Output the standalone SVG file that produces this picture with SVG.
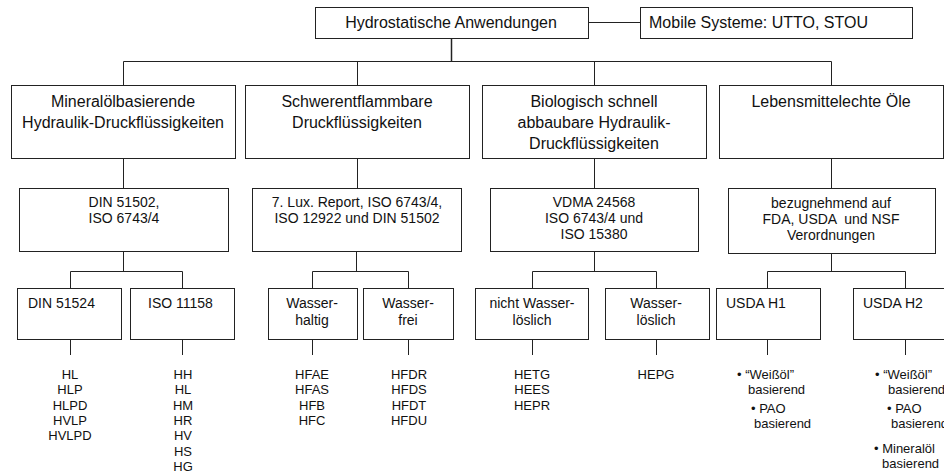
<svg xmlns="http://www.w3.org/2000/svg" width="944" height="475" viewBox="0 0 944 475">
<style>
rect{fill:#fff;stroke:#222;stroke-width:1}
.c line,.c path{stroke:#222;stroke-width:1;fill:none}
text{font-family:"Liberation Sans",Arial,sans-serif;fill:#111}
.t16{font-size:16px;text-anchor:middle}
.t14{font-size:14px;text-anchor:middle}
.s14{font-size:14px}
.l13{font-size:13px;text-anchor:middle}
.b13{font-size:13px}
</style>
<g class="c" id="connectors">
<line x1="588" y1="22.5" x2="640" y2="22.5"/>
<line x1="451.5" y1="38" x2="451.5" y2="61.5" style="stroke-width:1.5"/>
<path d="M123.5 85V61.5H831.5V85"/>
<line x1="357.5" y1="61.5" x2="357.5" y2="85"/>
<line x1="594.5" y1="61.5" x2="594.5" y2="85"/>
<line x1="123.5" y1="158" x2="123.5" y2="188"/>
<line x1="357.5" y1="158" x2="357.5" y2="188"/>
<line x1="594.5" y1="158" x2="594.5" y2="188"/>
<line x1="831.5" y1="158" x2="831.5" y2="188"/>
<line x1="123.5" y1="251" x2="123.5" y2="271.5"/>
<path d="M70.5 288V271.5H182.5V288"/>
<line x1="356.5" y1="251" x2="356.5" y2="271.5"/>
<path d="M312.5 288V271.5H408.5V288"/>
<line x1="594.5" y1="251" x2="594.5" y2="271.5"/>
<path d="M532.5 288V271.5H656.5V288"/>
<line x1="831.5" y1="253" x2="831.5" y2="271.5"/>
<path d="M767.5 288V271.5H905.5V288"/>
<line x1="70.5" y1="339" x2="70.5" y2="355"/>
<line x1="182.5" y1="339" x2="182.5" y2="355"/>
<line x1="312.5" y1="339" x2="312.5" y2="355"/>
<line x1="408.5" y1="339" x2="408.5" y2="355"/>
<line x1="532.5" y1="339" x2="532.5" y2="355"/>
<line x1="656.5" y1="339" x2="656.5" y2="355"/>
<line x1="767.5" y1="339" x2="767.5" y2="355"/>
<line x1="905.5" y1="339" x2="905.5" y2="355"/>
</g>
<g id="root"><rect x="315.5" y="7.5" width="273" height="31"/><text class="t16" x="451" y="28">Hydrostatische Anwendungen</text></g>
<g id="mobile"><rect x="640.5" y="7.5" width="272" height="31"/><text class="s14" style="font-size:16px" x="649" y="28">Mobile Systeme: UTTO, STOU</text></g>
<g id="mineral"><rect x="11.5" y="85.5" width="224" height="73"/><text class="t16" x="123" y="107">Mineralölbasierende</text><text class="t16" x="123" y="128">Hydraulik-Druckflüssigkeiten</text></g>
<g id="schwer"><rect x="245.5" y="85.5" width="224" height="73"/><text class="t16" x="357" y="107">Schwerentflammbare</text><text class="t16" x="357" y="128">Druckflüssigkeiten</text></g>
<g id="bio"><rect x="482.5" y="85.5" width="224" height="73"/><text class="t16" x="594" y="107">Biologisch schnell</text><text class="t16" x="594" y="128">abbaubare Hydraulik-</text><text class="t16" x="594" y="149">Druckflüssigkeiten</text></g>
<g id="lebens"><rect x="719.5" y="85.5" width="224" height="73"/><text class="t16" x="831" y="107">Lebensmittelechte Öle</text></g>
<g id="din51502"><rect x="19.5" y="188.5" width="209" height="63"/><text class="t14" x="124" y="207">DIN 51502,</text><text class="t14" x="124" y="223">ISO 6743/4</text></g>
<g id="lux"><rect x="252.5" y="188.5" width="209" height="63"/><text class="t14" x="357" y="207">7. Lux. Report, ISO 6743/4,</text><text class="t14" x="357" y="223">ISO 12922 und DIN 51502</text></g>
<g id="vdma"><rect x="490.5" y="188.5" width="208" height="63"/><text class="t14" x="594" y="207">VDMA 24568</text><text class="t14" x="594" y="223">ISO 6743/4 und</text><text class="t14" x="594" y="239">ISO 15380</text></g>
<g id="fda"><rect x="728.5" y="188.5" width="207" height="65"/><text class="t14" x="831" y="208">bezugnehmend auf</text><text class="t14" x="831" y="224" xml:space="preserve">FDA, USDA  und NSF</text><text class="t14" x="831" y="240">Verordnungen</text></g>
<g id="din51524"><rect x="17.5" y="288.5" width="104" height="51"/><text class="s14" x="28" y="308">DIN 51524</text></g>
<g id="iso11158"><rect x="130.5" y="288.5" width="104" height="51"/><text class="s14" x="148" y="308">ISO 11158</text></g>
<g id="haltig"><rect x="268.5" y="288.5" width="89" height="51"/><text class="t14" x="312" y="308">Wasser-</text><text class="t14" x="312" y="325">haltig</text></g>
<g id="frei"><rect x="363.5" y="288.5" width="90" height="51"/><text class="t14" x="408" y="308">Wasser-</text><text class="t14" x="408" y="325">frei</text></g>
<g id="nichtloeslich"><rect x="475.5" y="288.5" width="113" height="51"/><text class="t14" x="532" y="308">nicht Wasser-</text><text class="t14" x="532" y="325">löslich</text></g>
<g id="loeslich"><rect x="605.5" y="288.5" width="104" height="51"/><text class="t14" x="656" y="308">Wasser-</text><text class="t14" x="656" y="325">löslich</text></g>
<g id="h1"><rect x="716.5" y="288.5" width="104" height="51"/><text class="s14" x="726" y="308">USDA H1</text></g>
<g id="h2"><rect x="853.5" y="288.5" width="104" height="51"/><text class="s14" x="863" y="308">USDA H2</text></g>
<g id="list-din51524"><text class="l13" x="70" y="379">HL</text><text class="l13" x="70" y="394.3">HLP</text><text class="l13" x="70" y="409.6">HLPD</text><text class="l13" x="70" y="424.9">HVLP</text><text class="l13" x="70" y="440.2">HVLPD</text></g>
<g id="list-iso11158"><text class="l13" x="183" y="379">HH</text><text class="l13" x="183" y="394.3">HL</text><text class="l13" x="183" y="409.6">HM</text><text class="l13" x="183" y="424.9">HR</text><text class="l13" x="183" y="440.2">HV</text><text class="l13" x="183" y="455.5">HS</text><text class="l13" x="183" y="470.8">HG</text></g>
<g id="list-haltig"><text class="l13" x="312" y="379">HFAE</text><text class="l13" x="312" y="394.3">HFAS</text><text class="l13" x="312" y="409.6">HFB</text><text class="l13" x="312" y="424.9">HFC</text></g>
<g id="list-frei"><text class="l13" x="409" y="379">HFDR</text><text class="l13" x="409" y="394.3">HFDS</text><text class="l13" x="409" y="409.6">HFDT</text><text class="l13" x="409" y="424.9">HFDU</text></g>
<g id="list-nichtloeslich"><text class="l13" x="532" y="379">HETG</text><text class="l13" x="532" y="394.3">HEES</text><text class="l13" x="532" y="409.6">HEPR</text></g>
<g id="list-loeslich"><text class="l13" x="656" y="379">HEPG</text></g>
<g id="list-h1"><text class="b13" x="737" y="378.5">• “Weißöl”</text><text class="b13" x="748" y="393.5">basierend</text><text class="b13" x="751" y="412.5">• PAO</text><text class="b13" x="754" y="427.5">basierend</text></g>
<g id="list-h2"><text class="b13" x="875" y="378.5">• “Weißöl”</text><text class="b13" x="888" y="393.5">basierend</text><text class="b13" x="887" y="412.5">• PAO</text><text class="b13" x="891" y="427.5">basierend</text><text class="b13" x="874" y="452.5">• Mineralöl</text><text class="b13" x="882" y="467.5">basierend</text></g>
</svg>
